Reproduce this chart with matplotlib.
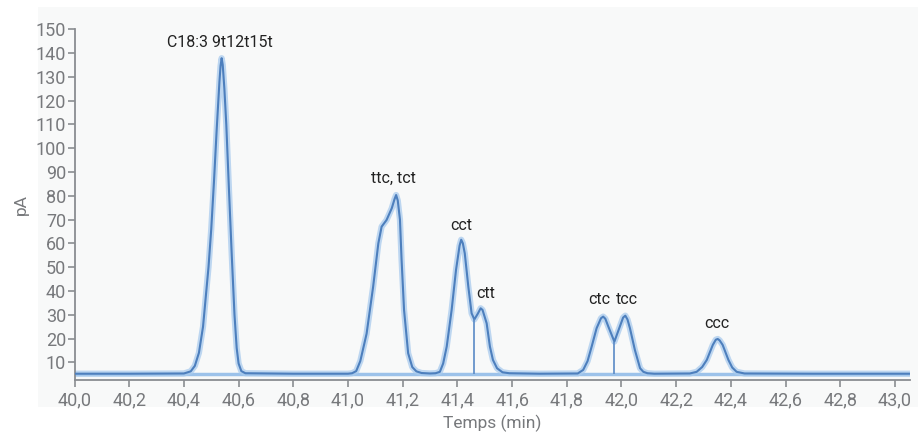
import matplotlib.pyplot as plt
from matplotlib.patches import Rectangle
from matplotlib.ticker import FuncFormatter, MultipleLocator

plt.rcParams['font.family'] = ['Roboto', 'DejaVu Sans']

# chromatogram trace, time (min) vs signal (pA)
t = [40.00, 40.20, 40.40, 40.425, 40.44, 40.455, 40.47, 40.49, 40.50, 40.51,
     40.52, 40.53, 40.534, 40.538, 40.542, 40.548, 40.555, 40.565, 40.575, 40.585,
     40.593, 40.60, 40.61, 40.625, 40.80, 41.00, 41.015, 41.03, 41.045, 41.068,
     41.092, 41.111, 41.123, 41.141, 41.160, 41.170, 41.176, 41.182, 41.190, 41.196,
     41.205, 41.220, 41.235, 41.250, 41.269, 41.30, 41.32, 41.336, 41.348, 41.361,
     41.379, 41.395, 41.408, 41.414, 41.420, 41.427, 41.440, 41.452, 41.462, 41.475,
     41.485, 41.492, 41.507, 41.519, 41.530, 41.545, 41.565, 41.59, 41.70, 41.84,
     41.860, 41.876, 41.891, 41.909, 41.925, 41.933, 41.941, 41.952, 41.974, 41.994,
     42.006, 42.014, 42.022, 42.031, 42.049, 42.068, 42.080, 42.095, 42.12, 42.25,
     42.275, 42.295, 42.312, 42.334, 42.345, 42.352, 42.359, 42.370, 42.391, 42.405,
     42.421, 42.45, 42.70, 43.06]
pa = [5.2, 5.2, 5.3, 6.2, 8.5, 14.0, 25.0, 50.0, 66.0, 86.0,
      108.0, 128.0, 134.5, 137.8, 135.0, 125.0, 110.0, 82.0, 55.0, 30.0,
      16.0, 9.5, 6.3, 5.4, 5.2, 5.2, 5.4, 6.3, 10.5, 22.0,
      41.8, 60.0, 67.0, 69.8, 74.7, 78.5, 80.3, 78.0, 70.0, 53.0,
      32.0, 13.8, 8.0, 6.2, 5.5, 5.3, 5.4, 6.0, 9.5, 16.6,
      32.0, 48.8, 59.0, 61.5, 60.0, 55.8, 41.8, 30.6, 28.0, 30.5,
      32.7, 32.0, 26.4, 16.6, 11.0, 7.5, 5.8, 5.4, 5.2, 5.3,
      6.8, 10.5, 16.6, 24.3, 28.5, 29.2, 28.3, 25.0, 18.7, 25.0,
      28.8, 29.6, 28.0, 24.3, 15.2, 7.5, 6.0, 5.4, 5.2, 5.3,
      6.0, 8.0, 11.0, 17.3, 19.5, 19.8, 19.2, 17.3, 11.0, 7.8,
      6.0, 5.3, 5.2, 5.2]

# peak labels
peak_names = ['C18:3 9t12t15t', 'ttc, tct', 'cct', 'ctt', 'ctc', 'tcc', 'ccc']
peak_x = [40.532, 41.165, 41.414, 41.502, 41.918, 42.020, 42.349]
peak_y = [144.2, 87.5, 67.7, 39.1, 36.2, 36.2, 26.5]

# split lines between co-eluting peaks
drop_t = [41.461, 41.974]
drop_top = [28.0, 18.7]
baseline = 5.0

fig = plt.figure(figsize=(9.24, 4.33), dpi=100)
bg = Rectangle((38 / 924, 1 - 407 / 433), 880 / 924, 400 / 433,
               transform=fig.transFigure, facecolor='#f8f9f9',
               edgecolor='none', zorder=-10)
fig.patches.append(bg)
ax = fig.add_axes([74.5 / 924, 1 - 380 / 433, (910 - 74.5) / 924, (380 - 28.7) / 433])
ax.set_facecolor('none')
ax.set_zorder(5)

ax.axhline(baseline, color='#9cc2ea', lw=2.5, zorder=1)
ax.plot(t, pa, color='#a9cbee', lw=4.5, alpha=0.75, solid_capstyle='round',
        solid_joinstyle='round', zorder=2)
ax.plot(t, pa, color='#4d7fbd', lw=1.5, solid_joinstyle='round', zorder=3)
ax.vlines(drop_t, baseline, drop_top, color='#5a8ac6', lw=1.2, zorder=3)

for name, x, y in zip(peak_names, peak_x, peak_y):
    ax.text(x, y, name, ha='center', va='center', fontsize=11.5, color='#222222')

ax.set_xlim(40.0, 43.055)
ax.set_ylim(2.56, 150.2)
ax.xaxis.set_major_locator(MultipleLocator(0.2))
ax.set_yticks(range(10, 151, 10))
ax.xaxis.set_major_formatter(FuncFormatter(lambda v, p: f'{v:.1f}'.replace('.', ',')))

for s in ['top', 'right']:
    ax.spines[s].set_visible(False)
for s in ['left', 'bottom']:
    ax.spines[s].set_color('#8a8d91')
    ax.spines[s].set_linewidth(1.3)
ax.tick_params(colors='#8a8d91', labelcolor='#77797c', labelsize=13, length=5, width=1.2)
ax.tick_params(axis='y', pad=1)
ax.tick_params(axis='x', pad=3)

ax.set_xlabel('Temps (min)', fontsize=12.5, color='#77797c', labelpad=4)
ax.set_ylabel('pA', fontsize=12.5, color='#77797c', labelpad=5)

plt.savefig('out.png', dpi=100)
